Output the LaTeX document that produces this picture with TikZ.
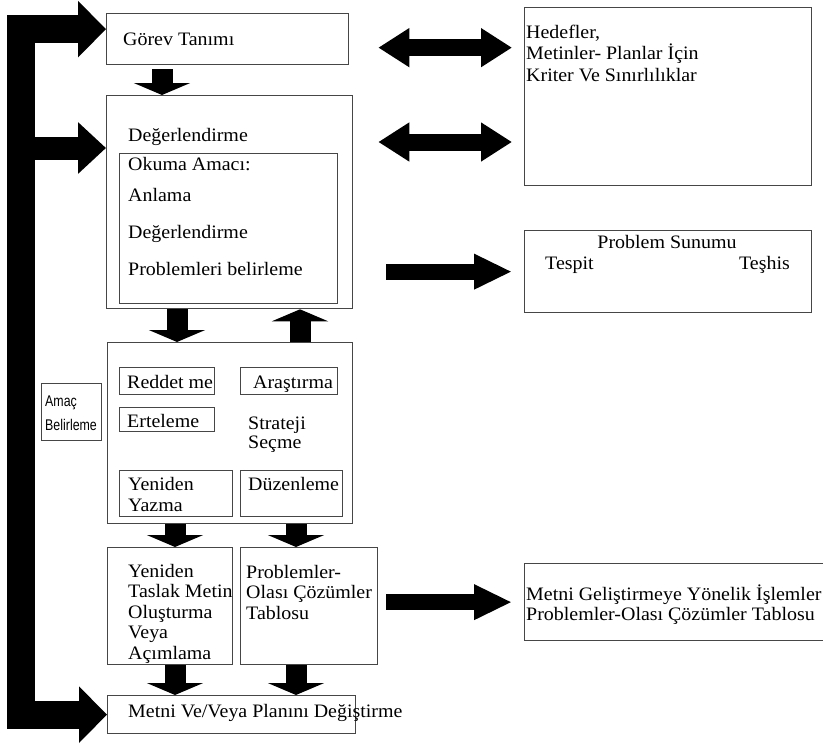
\documentclass[tikz,border=0pt]{standalone}
\usepackage{fontspec}
\setmainfont[FakeStretch=1.05]{Liberation Serif}
\newfontfamily\narrowsf[FakeStretch=0.8]{Liberation Sans}
\usetikzlibrary{calc,positioning,arrows.meta}
\definecolor{BoxGray}{RGB}{70,70,70}

\begin{document}
\begin{tikzpicture}[x=1pt,y=-1pt,
    box/.style={draw=BoxGray,line width=1.3pt,rectangle,inner sep=0pt,anchor=north west},
    txt/.style={inner sep=0pt,anchor=base west,align=left,font=\fontsize{19}{20.5}\selectfont},
    bararr/.style={line width=28pt,line join=miter,{Triangle[length=28pt,width=55pt]}-{Triangle[length=28pt,width=55pt]}},
    midarr/.style={line width=23pt,-{Triangle[length=28pt,width=50pt]}},
    downarr/.style={line width=21pt,-{Triangle[length=12pt,width=56pt]}},
    dblarr/.style={line width=17pt,{Triangle[length=31pt,width=37pt]}-{Triangle[length=31pt,width=37pt]}},
    sngarr/.style={line width=16pt,-{Triangle[length=38pt,width=33pt]}}]
  \useasboundingbox (0,0) rectangle (823,745);
  % frames
  \node[box,minimum width=242pt,minimum height=51pt] (gorev) at (106,13) {};
  \node[box,minimum width=246pt,minimum height=213pt] (deger) at (106,95) {};
  \node[box,minimum width=218pt,minimum height=150pt] (okuma) at (119,153) {};
  \node[box,minimum width=245pt,minimum height=181pt] (strat) at (107,342) {};
  \node[box,minimum width=95pt,minimum height=27pt] (reddet) at (119,367) {};
  \node[box,minimum width=97pt,minimum height=27pt] (arast) at (240,367) {};
  \node[box,minimum width=95pt,minimum height=24pt] (ertele) at (119,407) {};
  \node[box,minimum width=113pt,minimum height=46pt] (yeniden) at (119,470) {};
  \node[box,minimum width=102pt,minimum height=46pt] (duzen) at (240,470) {};
  \node[box,minimum width=125pt,minimum height=117pt] (taslak) at (107,547) {};
  \node[box,minimum width=137pt,minimum height=117pt] (tablo) at (240,547) {};
  \node[box,minimum width=248pt,minimum height=38pt] (metni) at (107,695) {};
  \node[box,minimum width=60pt,minimum height=57pt] (amac) at (41,383) {};
  \node[box,minimum width=287pt,minimum height=178pt] (hedef) at (524,7) {};
  \node[box,minimum width=287pt,minimum height=82pt] (sunum) at (524,230) {};
  \node[box,minimum width=302pt,minimum height=77pt] (islem) at (524,563) {};
  % texts (multi-line ones sit on their last line)
  \node[txt] (gorevT) at (123,45) {Görev Tanımı};
  \node[txt] (degerT) at (128,141) {Değerlendirme};
  \node[txt] (okumaT) at (128,170) {Okuma Amacı:};
  \node[txt] (anlamaT) at (128,201) {Anlama};
  \node[txt] (degerT2) at (128,238) {Değerlendirme};
  \node[txt] (probT) at (128,275) {Problemleri belirleme};
  \node[txt] (reddetT) at (127,388) {Reddet me};
  \node[txt] (arastT) at (253,388) {Araştırma};
  \node[txt] (erteleT) at (127,427) {Erteleme};
  \node[txt,font=\fontsize{19}{19}\selectfont] (stratT) at (248,448) {Strateji\\Seçme};
  \node[txt,font=\fontsize{19}{21}\selectfont] (yenidenT) at (128,511) {Yeniden\\Yazma};
  \node[txt] (duzenT) at (248,490) {Düzenleme};
  \node[txt] (taslakT) at (128,659) {Yeniden\\Taslak Metin\\Oluşturma\\Veya\\Açımlama};
  \node[txt] (tabloT) at (246,619) {Problemler-\\Olası Çözümler\\Tablosu};
  \node[txt] (metniT) at (128,717) {Metni Ve/Veya Planını Değiştirme};
  \node[txt,font=\narrowsf\fontsize{15.5}{24}\selectfont] (amacT) at (45,430) {Amaç\\Belirleme};
  \node[txt,font=\fontsize{19}{21.5}\selectfont] (hedefT) at (526,81) {Hedefler,\\Metinler- Planlar İçin\\Kriter Ve Sınırlılıklar};
  \node[txt,anchor=base] (sunumT) at (667,248) {Problem Sunumu};
  \node[txt] (tespitT) at (545,269) {Tespit};
  \node[txt,anchor=base east] (teshisT) at (790,269) {Teşhis};
  \node[txt,font=\fontsize{19}{20}\selectfont] (islemT) at (526,620) {Metni Geliştirmeye Yönelik İşlemler\\Problemler-Olası Çözümler Tablosu};
  % arrows
  \coordinate (barx) at (21,0);
  \coordinate (c1) at (162,0);
  \coordinate (cA) at (177,0);
  \coordinate (cB) at (300,0);
  \coordinate (cC) at (175,0);
  \coordinate (cD) at (296,0);
  \coordinate (degpt) at ([yshift=-53pt]deger.north west);
  \draw[bararr] ([yshift=10pt]gorev.west) -| (barx |- metni.west) -- (metni.west);
  \draw[midarr] (barx |- degpt) -- (degpt);
  \draw[downarr,shorten <=4pt] (gorev.south -| c1) -- (deger.north -| c1);
  \draw[downarr] (deger.south -| cA) -- (strat.north -| cA);
  \draw[downarr] (strat.north -| cB) -- (deger.south -| cB);
  \draw[downarr] (strat.south -| cC) -- (taslak.north -| cC);
  \draw[downarr] (strat.south -| cD) -- (tablo.north -| cD);
  \draw[downarr] (taslak.south -| cC) -- (metni.north -| cC);
  \draw[downarr] (tablo.south -| cD) -- (metni.north -| cD);
  \draw[dblarr,shorten <=29pt,shorten >=12pt] ([yshift=-8.5pt]gorev.east) -- ([yshift=-8.5pt]gorev.east -| hedef.west);
  \draw[dblarr,shorten <=25pt,shorten >=12pt] ([yshift=-47pt]deger.north east) -- ([yshift=-47pt]deger.north east -| hedef.west);
  \draw[sngarr,shorten <=33pt,shorten >=12pt] (deger.east |- sunum.west) -- (sunum.west);
  \draw[sngarr,shorten <=8pt,shorten >=12pt] (tablo.east |- islem.west) -- (islem.west);
\end{tikzpicture}
\end{document}
